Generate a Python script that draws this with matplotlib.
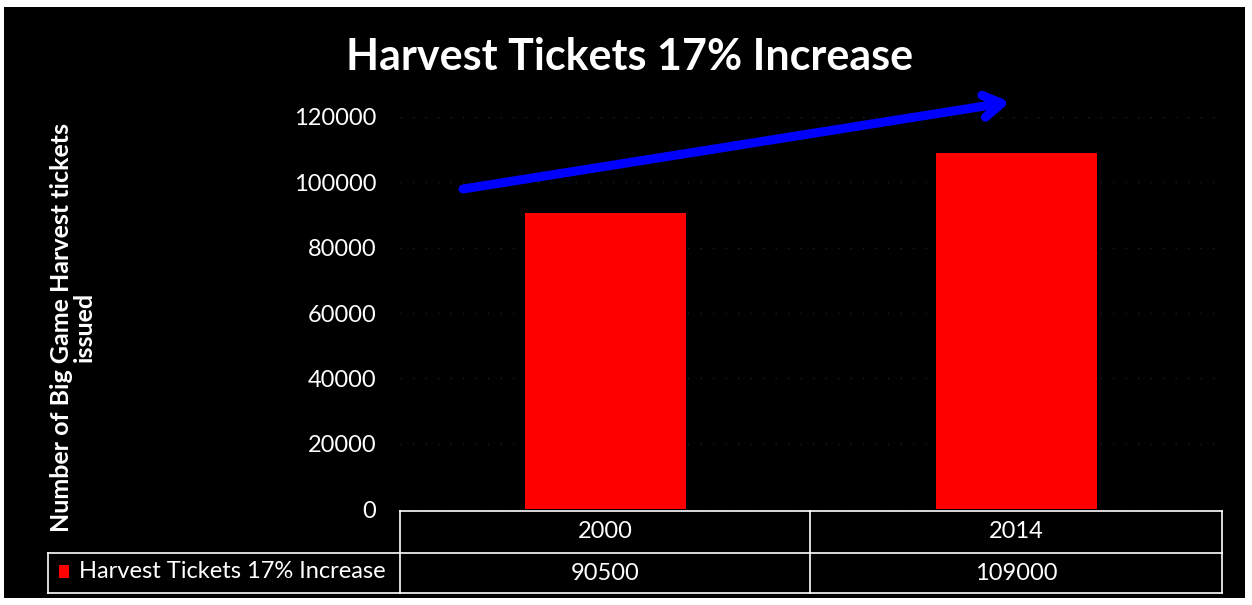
import matplotlib.pyplot as plt
from matplotlib.patches import Rectangle

years = ['2000', '2014']
tickets = [90500, 109000]
series_name = 'Harvest Tickets 17% Increase'
title = 'Harvest Tickets 17% Increase'
ylabel = 'Number of Big Game Harvest tickets\nissued'
yticks = [0, 20000, 40000, 60000, 80000, 100000, 120000]

W, H = 1252, 605
plt.rcParams['font.family'] = ['Lato', 'DejaVu Sans']


def fx(px):
    return px / W


def fy(py):
    return 1 - py / H


fig = plt.figure(figsize=(W / 100, H / 100), dpi=100, facecolor='white')
# black slide background with thin white margin
fig.patches.append(Rectangle((fx(4), fy(598)), fx(1245) - fx(4), fy(7) - fy(598),
                             transform=fig.transFigure, facecolor='black', edgecolor='none', zorder=-5))

ax = fig.add_axes([fx(400), fy(509), fx(1222) - fx(400), fy(117) - fy(509)])
ax.set_zorder(2)
ax.set_facecolor('none')
x = range(len(years))
ax.bar(x, tickets, width=0.39, color='#ff0000', zorder=3)
ax.set_xlim(-0.5, len(years) - 0.5)
ax.set_ylim(0, 120000)
ax.set_yticks(yticks)
ax.set_yticklabels([str(v) for v in yticks], color='white', fontsize=17)
ax.tick_params(axis='y', length=0, pad=17)
ax.set_xticks([])
for s in ax.spines.values():
    s.set_visible(False)
ax.grid(axis='y', color='#202020', linestyle=(0, (1, 8)), linewidth=1, zorder=1)

fig.text(fx(630), fy(57), title, color='white', fontsize=31, fontweight='bold',
         ha='center', va='center', zorder=3)
fig.text(fx(73), fy(327), ylabel, color='white', fontsize=18, fontweight='bold',
         ha='center', va='center', rotation=90, linespacing=1.0, zorder=3)

# arrow
ax.annotate('', xy=(fx(1010), fy(102)), xytext=(fx(463), fy(189)),
            xycoords='figure fraction', textcoords='figure fraction',
            arrowprops=dict(arrowstyle='->,head_length=1.3,head_width=0.8',
                            color='#0000ff', lw=6.5, shrinkA=0, shrinkB=0),
            annotation_clip=False, zorder=4)

# data table
col_x = [400, 810, 1222]
row_y = [511, 553, 593]
lw = 1.2
for yy in row_y:
    x0 = 48 if yy != row_y[0] else 400
    fig.add_artist(plt.Line2D([fx(x0), fx(1222)], [fy(yy), fy(yy)], color='white', lw=lw, zorder=3))
fig.add_artist(plt.Line2D([fx(48), fx(48)], [fy(553), fy(593)], color='white', lw=lw, zorder=3))
for xx in col_x:
    fig.add_artist(plt.Line2D([fx(xx), fx(xx)], [fy(511), fy(593)], color='white', lw=lw, zorder=3))
for i, (yr, v) in enumerate(zip(years, tickets)):
    cx = (col_x[i] + col_x[i + 1]) / 2
    fig.text(fx(cx), fy(532), yr, color='white', fontsize=17, ha='center', va='center', zorder=3)
    fig.text(fx(cx), fy(573), str(v), color='white', fontsize=17, ha='center', va='center', zorder=3)
fig.patches.append(Rectangle((fx(59), fy(578)), fx(10), fy(565) - fy(578),
                             transform=fig.transFigure, facecolor='#ff0000', edgecolor='none', zorder=3))
fig.text(fx(79), fy(571), series_name, color='white', fontsize=17, ha='left', va='center', zorder=3)

plt.savefig('out.png', dpi=100, facecolor='white')
